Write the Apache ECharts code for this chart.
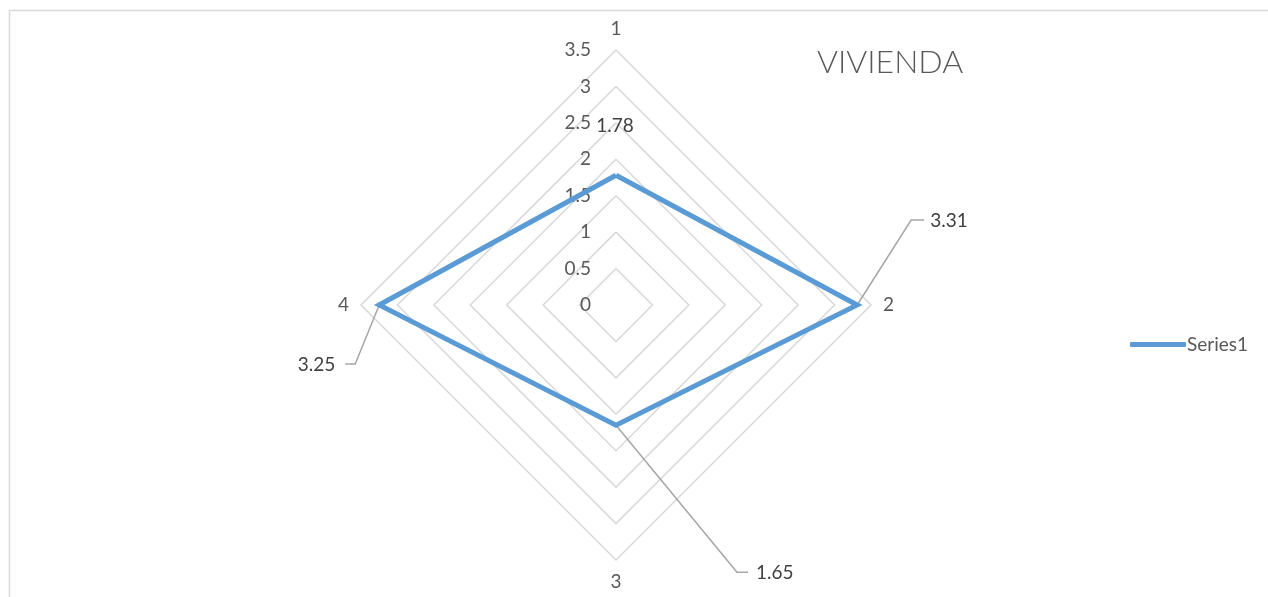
<!DOCTYPE html>
<html>
<head>
<meta charset="utf-8">
<script src="https://cdn.jsdelivr.net/npm/echarts@6/dist/echarts.min.js"></script>
<style>
html,body{margin:0;padding:0;background:#fff;}
#c{width:1268px;height:597px;}
</style>
</head>
<body>
<div id="c"></div>
<script>
const titleText = 'VIVIENDA';
const seriesName = 'Series1';
const indicators = ['1', '2', '3', '4'];
const values = [1.78, 3.31, 1.65, 3.25];
const axisMin = 0;
const axisMax = 3.5;
const axisStep = 0.5;

const FONT = 'Lato, "Open Sans", sans-serif';
const CX = 616, CY = 305, R = 255;
// ECharts radar runs counter-clockwise; reorder so categories go clockwise from the top
const order = [0, 3, 2, 1];

const chart = echarts.init(document.getElementById('c'), null, {renderer: 'canvas'});

const option = {
  backgroundColor: '#ffffff',
  animation: false,
  title: {
    text: titleText,
    left: 812, top: 42,
    textStyle: {fontFamily: FONT, fontWeight: 300, fontSize: 32, color: '#595959'}
  },
  legend: {
    left: 1125, top: 330,
    icon: 'roundRect',
    itemWidth: 56, itemHeight: 5,
    itemGap: 10,
    textStyle: {fontFamily: FONT, fontSize: 19, color: '#595959', padding: [0,0,0,-4]},
    data: [seriesName]
  },
  grid: {left: CX, top: CY - R, width: 1, height: R, containLabel: false},
  xAxis: {type: 'value', show: false},
  yAxis: {
    type: 'value', min: axisMin, max: axisMax, interval: axisStep,
    axisLine: {show: false}, axisTick: {show: false}, splitLine: {show: false},
    axisLabel: {margin: 25, fontFamily: FONT, fontSize: 19, color: '#595959'}
  },
  radar: {
    center: [CX, CY],
    radius: R,
    shape: 'polygon',
    startAngle: 90,
    splitNumber: Math.round((axisMax - axisMin) / axisStep),
    indicator: order.map(k => ({name: indicators[k], min: axisMin, max: axisMax})),
    axisName: {fontFamily: FONT, fontSize: 19, color: '#595959'},
    nameGap: 12,
    axisLine: {show: false},
    axisTick: {show: false},
    splitArea: {show: false},
    splitLine: {lineStyle: {color: '#d9d9d9', width: 1.5}}
  },
  series: [{
    name: seriesName,
    type: 'radar',
    symbol: 'none',
    lineStyle: {color: '#5b9bd5', width: 5, join: 'miter'},
    itemStyle: {color: '#5b9bd5'},
    data: [{value: order.map(k => values[k]), name: seriesName}]
  }]
};
chart.setOption(option);

// data labels (with leader lines) anchored to the radar's own coordinate system
let toPoint;
try {
  const cs = chart.getModel().getComponent('radar').coordinateSystem;
  toPoint = (v, i) => cs.dataToPoint(v, order.indexOf(i));
} catch (e) {
  toPoint = (v, i) => {
    const a = Math.PI / 2 - i * Math.PI / 2;
    const r = (v - axisMin) / (axisMax - axisMin) * R;
    return [CX + r * Math.cos(a), CY - r * Math.sin(a)];
  };
}
// label placement offsets relative to each point: [elbow dx, elbow dy, end dx, text dx, align]
const labelLayout = [
  null,
  [54, -85, 67, 73, 'left'],
  [121, 147, 132, 140, 'left'],
  [-24, 59, -34, -44, 'right']
];
const gfx = [{
  type: 'rect', silent: true, z: -1,
  shape: {x: 9.5, y: 10.5, width: 1300, height: 700},
  style: {fill: null, stroke: '#d9d9d9', lineWidth: 1.5}
}];
values.forEach((v, i) => {
  const p = toPoint(v, i);
  const txt = String(v);
  const ts = {fontFamily: FONT, fontSize: 19, fill: '#404040', text: txt, verticalAlign: 'middle'};
  const L = labelLayout[i];
  if (!L) {
    gfx.push({type: 'text', silent: true, x: p[0] - 1, y: p[1] - 49, style: Object.assign({}, ts, {align: 'center'})});
  } else {
    gfx.push({
      type: 'polyline', silent: true,
      shape: {points: [[p[0], p[1]], [p[0] + L[0], p[1] + L[1]], [p[0] + L[2], p[1] + L[1]]]},
      style: {stroke: '#a6a6a6', lineWidth: 1.5, fill: null}
    });
    gfx.push({type: 'text', silent: true, x: p[0] + L[3], y: p[1] + L[1] + 1, style: Object.assign({}, ts, {align: L[4]})});
  }
});
chart.setOption({graphic: gfx});
</script>
</body>
</html>
